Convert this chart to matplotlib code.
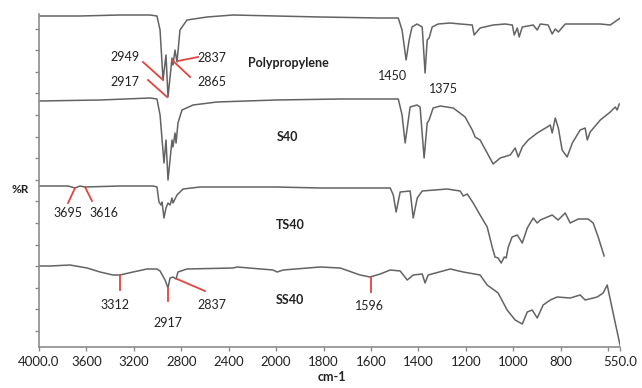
import numpy as np
import matplotlib
matplotlib.use("Agg")
import matplotlib.pyplot as plt

plt.rcParams['font.family'] = ['Lato', 'DejaVu Sans']

# spectra: wavenumber (cm-1) and offset %R (arbitrary units)
wn_pp = [4000, 3654, 3317, 3064, 3005, 2979, 2954, 2929, 2912, 2878, 2870, 2853, 2836, 2811,
         2752, 2583, 2364, 2000, 1815, 1561, 1485, 1469, 1452, 1439, 1427, 1406, 1384, 1372,
         1363, 1355, 1342, 1317, 1266, 1224, 1173, 1165, 1140, 1085, 1034, 1004, 996, 983,
         975, 962, 916, 899, 886, 853, 836, 823, 810, 781, 718, 633, 591, 549]
r_pp = [331, 331, 332, 332, 331, 317, 267, 292, 250, 289, 282, 297, 285, 317,
        327, 330, 332, 331, 330, 329, 329, 317, 287, 307, 320, 323, 320, 274,
        307, 309, 320, 323, 324, 323, 322, 312, 319, 322, 323, 322, 312, 319,
        310, 320, 322, 317, 323, 322, 313, 318, 315, 323, 323, 323, 322, 329]

wn_s40 = [4000, 3485, 3064, 3005, 2979, 2946, 2929, 2912, 2878, 2870, 2853, 2844, 2828, 2794,
          2701, 2499, 2000, 1730, 1485, 1469, 1456, 1435, 1406, 1393, 1376, 1363, 1355, 1338,
          1308, 1253, 1203, 1173, 1161, 1140, 1110, 1085, 1055, 1013, 992, 979, 962, 937,
          899, 857, 844, 836, 823, 810, 794, 773, 751, 718, 697, 688, 676, 633, 591, 570,
          562, 553]
r_s40 = [246, 247, 249, 248, 232, 184, 207, 167, 207, 200, 214, 204, 224, 237,
         242, 245, 247, 248, 248, 232, 204, 240, 242, 240, 189, 224, 227, 239,
         241, 239, 230, 217, 210, 207, 194, 183, 189, 192, 199, 190, 200, 207,
         214, 220, 222, 214, 229, 219, 197, 190, 204, 217, 219, 207, 215, 227, 235, 240,
         237, 243]

wn_ts40 = [4000, 3755, 3696, 3654, 3612, 3317, 3038, 3005, 2988, 2971, 2962, 2946, 2929, 2912,
           2895, 2878, 2870, 2836, 2785, 2642, 2364, 2000, 1814, 1519, 1506, 1494, 1477, 1435,
           1422, 1405, 1384, 1279, 1224, 1211, 1194, 1169, 1140, 1110, 1089, 1077, 1064, 1051,
           1038, 1030, 1021, 1005, 983, 962, 941, 916, 899, 886, 836, 811, 781, 760, 726,
           684, 663, 642, 617]
r_ts40 = [161, 161, 159, 161, 160, 161, 161, 160, 145, 142, 145, 129, 139, 144,
          142, 149, 144, 152, 158, 160, 160, 160, 159, 159, 152, 135, 155, 156,
          129, 149, 156, 158, 156, 151, 153, 144, 132, 120, 100, 90, 89, 84,
          90, 89, 100, 110, 112, 104, 119, 129, 124, 127, 132, 127, 134, 124, 128,
          128, 124, 110, 91]

wn_ss40 = [4000, 3907, 3739, 3595, 3485, 3376, 3317, 3207, 3089, 3005, 2979, 2937, 2912, 2895,
           2870, 2844, 2828, 2752, 2364, 2330, 2026, 1996, 1970, 1814, 1730, 1646, 1604, 1561,
           1519, 1477, 1447, 1422, 1384, 1372, 1359, 1266, 1211, 1140, 1110, 1064, 1026, 992,
           962, 941, 920, 899, 874, 844, 815, 760, 718, 697, 646, 621, 604, 595, 579, 549]
r_ss40 = [81, 81, 82, 79, 75, 72, 72, 75, 78, 78, 76, 67, 59, 69,
          70, 68, 75, 78, 79, 80, 77, 75, 77, 80, 79, 72, 70, 73,
          77, 76, 67, 72, 73, 64, 72, 78, 75, 72, 62, 54, 37, 27,
          23, 35, 37, 29, 42, 47, 50, 49, 52, 47, 50, 54, 62, 52, 34, 1]

tick_pos = [4000, 3600, 3200, 2800, 2400, 2000, 1800, 1600, 1400, 1200, 1000, 800, 600, 550]
tick_lbl = ['4000.0', '3600', '3200', '2800', '2400', '2000', '1800', '1600', '1400',
            '1200', '1000', '800', '', '550.0']

# peak labels: (text, x, y), and red marker segments ((x0, x1), (y0, y1))
peak_text = [('2949', 3275, 290), ('2917', 3275, 265), ('2837', 2541, 289), ('2865', 2541, 265),
             ('1450', 1511, 271), ('1375', 1296, 258), ('3695', 3755, 134), ('3616', 3452, 134),
             ('3312', 3359, 42), ('2917', 2912, 24), ('2837', 2541, 42), ('1596', 1608, 41)]
peak_lines = [((3123, 2954), (285, 267)), ((3081, 2920), (267, 250)),
              ((2659, 2828), (290, 286)), ((2726, 2878), (270, 287)),
              ((3755, 3696), (144, 159)), ((3553, 3612), (146, 160)),
              ((3317, 3317), (72, 57)), ((2912, 2912), (59, 46)),
              ((2836, 2600), (68, 56)), ((1599, 1599), (70, 55))]
names = [('Polypropylene', 1949, 284), ('S40', 1954, 210), ('TS40', 1941, 122), ('SS40', 1941, 47)]


def fwd(x):
    # region above 2000 cm-1 is compressed 2x, like the instrument printout
    x = np.asarray(x, dtype=float)
    return np.where(x > 2000, 2000 + (x - 2000) / 2, x)


def inv(u):
    u = np.asarray(u, dtype=float)
    return np.where(u > 2000, 2000 + (u - 2000) * 2, u)


fig = plt.figure(figsize=(6.42, 3.88), dpi=100)
ax = fig.add_axes([39 / 642, 1 - 347 / 388, 581 / 642, 333 / 388])
ax.set_xscale('function', functions=(fwd, inv))
ax.set_xlim(4000, 550)
ax.set_ylim(0, 333)

line_col = '#636363'
for wn, r in [(wn_pp, r_pp), (wn_s40, r_s40), (wn_ts40, r_ts40), (wn_ss40, r_ss40)]:
    ax.plot(wn, r, color=line_col, lw=1.1)

for xs, ys in peak_lines:
    ax.plot(xs, ys, color='#e2453d', lw=1.3)
for t, x, y in peak_text:
    ax.text(x, y, t, ha='center', va='center', fontsize=9, color='#222222')
for t, x, y in names:
    ax.text(x, y, t, ha='center', va='center', fontsize=9, fontweight='bold', color='#222222')

ax.set_xticks(tick_pos)
ax.set_xticklabels(tick_lbl)
ax.set_yticks(np.arange(16, 333, 21.6))
ax.set_yticklabels([])
ax.minorticks_off()

for s in ['top', 'right']:
    ax.spines[s].set_visible(False)
for s in ['left', 'bottom']:
    ax.spines[s].set_color('#8c8c8c')
    ax.spines[s].set_linewidth(1.2)
ax.tick_params(axis='both', colors='#8c8c8c', length=3, width=1, labelcolor='#222222',
               labelsize=9.5)

fig.text(20 / 642, 1 - 189 / 388, '%R', ha='center', va='center', fontsize=8.5,
         fontweight='bold', color='#222222')
fig.text(332 / 642, 1 - 377 / 388, 'cm-1', ha='center', va='center', fontsize=9,
         fontweight='bold', color='#222222')

fig.savefig('out.png', dpi=100)
